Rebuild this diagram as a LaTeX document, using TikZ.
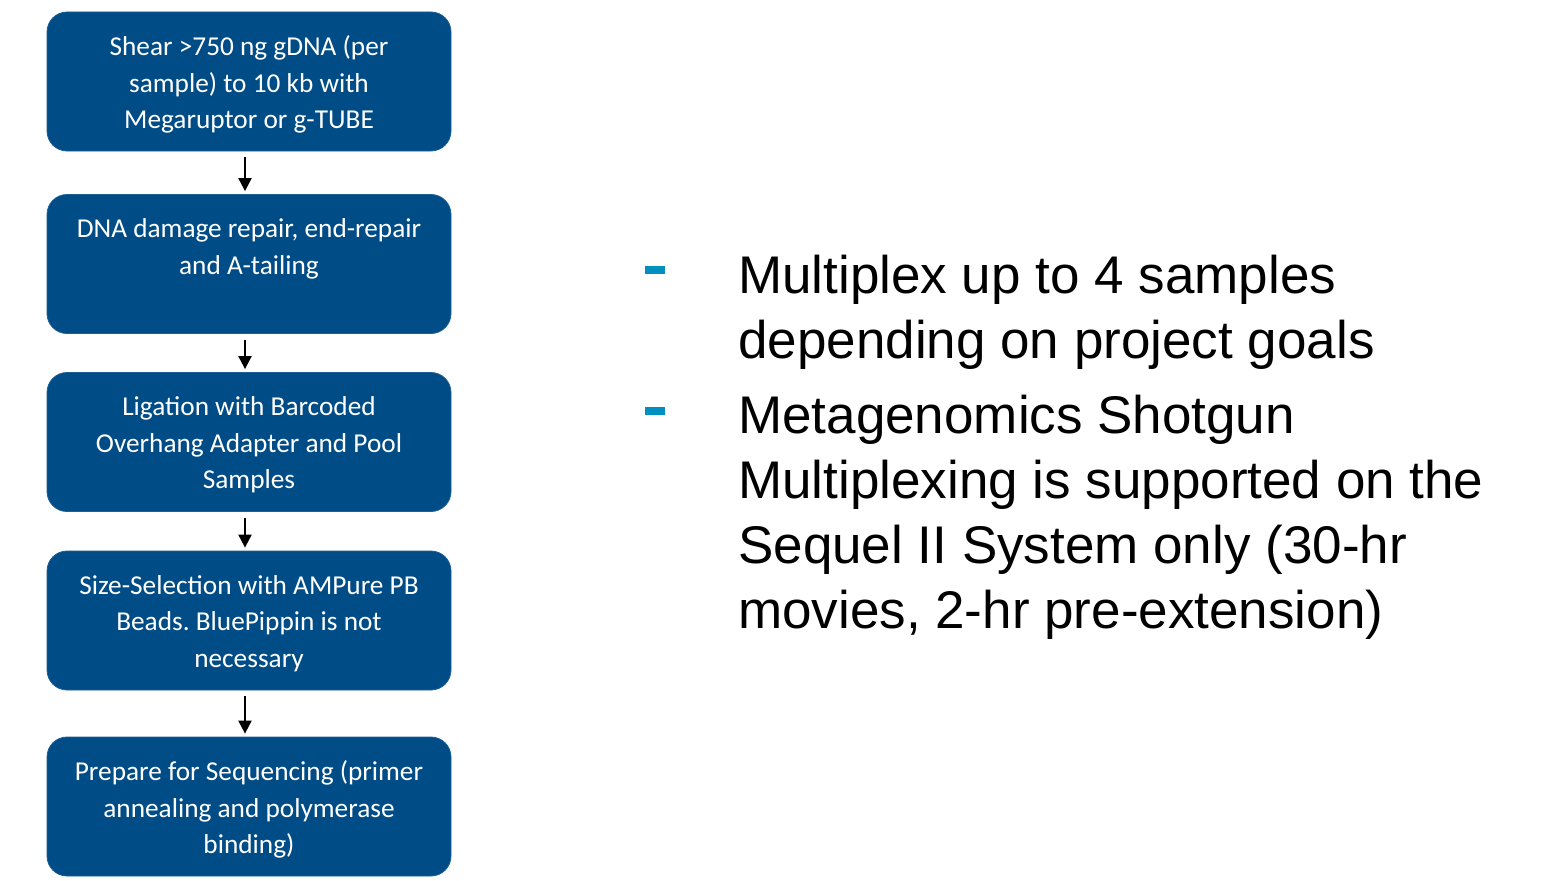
\documentclass[tikz,border=0pt]{standalone}
\usepackage{fontspec}
\setmainfont{Liberation Sans}
\newfontfamily\boxfont{Carlito}
\usetikzlibrary{arrows.meta}
\frenchspacing
\definecolor{boxblue}{RGB}{0,76,134}
\definecolor{boxedge}{RGB}{30,95,150}
\definecolor{barcyan}{RGB}{0,143,190}
\tikzset{
  stepbox/.style={draw=boxedge, line width=0.8pt, fill=boxblue, rounded corners=20pt,
    minimum width=404pt, minimum height=139pt, inner sep=0pt},
  steptext/.style={inner sep=0pt, align=center,
    text=white, font=\boxfont\fontsize{27.3}{36.5}\selectfont},
  flowarrow/.style={draw=black, line width=2pt, -{Triangle[length=13pt,width=13pt]},
    shorten <=6pt, shorten >=3pt},
  bulletbar/.style={fill=barcyan, minimum width=20pt, minimum height=7.5pt, inner sep=0pt, draw=none},
  righttext/.style={align=left, inner sep=0pt, font=\fontsize{53}{65}\selectfont}
}
\begin{document}
\begin{tikzpicture}[x=1pt,y=-1pt]
\useasboundingbox (0,0) rectangle (1554,880);
\node[stepbox] (b1) at (249,81.5) {};
\node[stepbox] (b2) at (249,264) {};
\node[stepbox] (b3) at (249,442) {};
\node[stepbox] (b4) at (249,620.5) {};
\node[stepbox] (b5) at (249,806.5) {};
\node[steptext] (b1t) at ([yshift=-3pt]b1.center) {Shear >750 ng gDNA (per\\sample) to 10 kb with\\Megaruptor or g-TUBE};
\node[steptext] (b2t) at ([yshift=-1pt]b2.center) {DNA damage repair, end-repair\\and A-tailing\\\mbox{}};
\node[steptext] (b3t) at ([yshift=-3pt]b3.center) {Ligation with Barcoded\\Overhang Adapter and Pool\\Samples};
\node[steptext] (b4t) at ([yshift=-3pt]b4.center) {Size-Selection with AMPure PB\\Beads. BluePippin is not\\necessary};
\node[steptext] (b5t) at ([yshift=-3pt]b5.center) {Prepare for Sequencing (primer\\annealing and polymerase\\binding)};
\draw[flowarrow] ([xshift=-4pt]b1.south) -- ([xshift=-4pt]b2.north);
\draw[flowarrow] ([xshift=-4pt]b2.south) -- ([xshift=-4pt]b3.north);
\draw[flowarrow] ([xshift=-4pt]b3.south) -- ([xshift=-4pt]b4.north);
\draw[flowarrow] ([xshift=-4pt]b4.south) -- ([xshift=-4pt]b5.north);
\node[bulletbar] (d1) at (655,270) {};
\node[bulletbar] (d2) at (655,411) {};
\node[righttext, anchor=base west] (t1) at (738,358) {Multiplex up to 4 samples\\depending on project goals};
\node[righttext, anchor=base west] (t2) at (738,628) {Metagenomics Shotgun\\Multiplexing is supported on the\\Sequel II System only (30-hr\\movies, 2-hr pre-extension)};
\end{tikzpicture}
\end{document}
